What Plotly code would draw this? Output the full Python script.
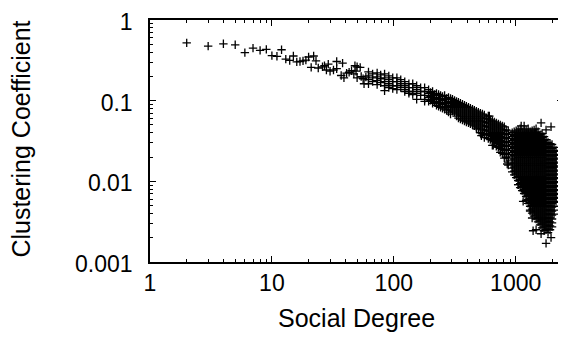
import plotly.graph_objects as go

# ---- data (degree, clustering coefficient) ----
sparse_degree = [2, 3, 4, 5, 6, 7, 8, 9, 10, 11, 12, 13, 14, 15, 16,
                 17, 18, 19, 20, 21, 22, 23, 24, 26, 27, 28, 29, 30, 32, 34, 34,
                 37, 38, 39, 41, 43, 45, 47, 48, 49, 50, 50, 53, 54, 56, 57, 59]
sparse_coef = [0.521, 0.474, 0.507, 0.493, 0.394, 0.448, 0.420, 0.432, 0.362, 0.355,
               0.428, 0.327, 0.315, 0.358, 0.303,
               0.306, 0.311, 0.318, 0.348, 0.259, 0.358, 0.311, 0.254, 0.263, 0.271,
               0.240, 0.284, 0.232, 0.240, 0.249, 0.306,
               0.205, 0.292, 0.192, 0.219, 0.225, 0.235, 0.215, 0.271, 0.232, 0.263,
               0.192, 0.259, 0.199, 0.187, 0.162, 0.196]

band_degree = [62, 67, 73, 78, 84, 91, 98, 106, 114, 123, 133, 143, 154, 166, 179,
               193, 208, 224, 242, 261, 281, 303, 327, 352, 380, 410, 442, 476, 513,
               553, 596, 643, 693, 747, 806, 869]
band_coef = [
    [0.227, 0.203, 0.182, 0.162],
    [0.215, 0.192, 0.172],
    [0.221, 0.197, 0.177, 0.158],
    [0.209, 0.187, 0.167],
    [0.215, 0.192, 0.172, 0.153, 0.133],
    [0.203, 0.182, 0.162, 0.145],
    [0.192, 0.172, 0.153, 0.141],
    [0.192, 0.172, 0.153, 0.137],
    [0.182, 0.162, 0.145],
    [0.172, 0.153, 0.137, 0.130],
    [0.162, 0.145, 0.130, 0.123],
    [0.162, 0.145, 0.130, 0.119],
    [0.153, 0.137, 0.123, 0.104],
    [0.145, 0.130, 0.116],
    [0.145, 0.130, 0.116, 0.104, 0.098],
    [0.137, 0.123, 0.110, 0.098],
    [0.130, 0.116, 0.104, 0.0927],
    [0.123, 0.110, 0.098, 0.0877],
    [0.116, 0.104, 0.0927, 0.0829],
    [0.116, 0.104, 0.0927, 0.0829, 0.0784],
    [0.110, 0.098, 0.0877, 0.0784, 0.0721],
    [0.104, 0.0927, 0.0829, 0.0741],
    [0.098, 0.0877, 0.0784, 0.0701, 0.0645],
    [0.0927, 0.0829, 0.0741, 0.0663, 0.0593],
    [0.0877, 0.0784, 0.0701, 0.0627, 0.0560],
    [0.0829, 0.0741, 0.0663, 0.0593, 0.0530],
    [0.0784, 0.0701, 0.0627, 0.0560, 0.0501],
    [0.0741, 0.0663, 0.0593, 0.0530, 0.0474, 0.0448],
    [0.0701, 0.0627, 0.0560, 0.0501, 0.0448, 0.0400],
    [0.0663, 0.0593, 0.0530, 0.0474, 0.0423, 0.0379, 0.0348],
    [0.0645, 0.0593, 0.0530, 0.0474, 0.0423, 0.0379, 0.0339],
    [0.0560, 0.0501, 0.0448, 0.0400, 0.0358, 0.0320, 0.0279],
    [0.0530, 0.0474, 0.0423, 0.0379, 0.0339, 0.0303, 0.0271],
    [0.0501, 0.0448, 0.0400, 0.0358, 0.0320, 0.0286, 0.0256, 0.0229],
    [0.0474, 0.0423, 0.0379, 0.0339, 0.0303, 0.0271, 0.0242, 0.0216, 0.0194],
    [0.0423, 0.0379, 0.0339, 0.0303, 0.0271, 0.0242, 0.0216, 0.0194, 0.0173, 0.0159],
]

band2_degree = [200, 216, 233, 251, 271, 292, 315, 339, 366, 394, 425, 458, 494, 533,
                574, 619, 667, 720, 776, 836]
band2_coef = [
    [0.1261, 0.1128, 0.1008],
    [0.1193, 0.1066, 0.0954],
    [0.1193, 0.1066, 0.0954, 0.0852],
    [0.1128, 0.1008, 0.0902, 0.0806],
    [0.1066, 0.0954, 0.0852, 0.0762],
    [0.1066, 0.0954, 0.0852, 0.0762, 0.0682],
    [0.1008, 0.0902, 0.0806, 0.0721],
    [0.0954, 0.0852, 0.0762, 0.0682, 0.0609],
    [0.0902, 0.0806, 0.0721, 0.0645, 0.0576],
    [0.0852, 0.0762, 0.0682, 0.0609, 0.0545],
    [0.0806, 0.0721, 0.0645, 0.0576, 0.0515],
    [0.0762, 0.0682, 0.0609, 0.0545, 0.0487],
    [0.0721, 0.0645, 0.0576, 0.0515, 0.0461],
    [0.0682, 0.0609, 0.0545, 0.0487, 0.0435, 0.0389],
    [0.0609, 0.0545, 0.0487, 0.0435, 0.0389],
    [0.0576, 0.0515, 0.0461, 0.0411, 0.0368, 0.0329],
    [0.0545, 0.0487, 0.0435, 0.0389, 0.0348, 0.0311],
    [0.0515, 0.0461, 0.0411, 0.0368, 0.0329, 0.0294, 0.0263],
    [0.0487, 0.0435, 0.0389, 0.0348, 0.0311, 0.0279, 0.0249, 0.0222],
    [0.0435, 0.0389, 0.0348, 0.0311, 0.0279, 0.0249, 0.0222, 0.0199],
]

cloud_degree = [936, 1009, 1088, 1173, 1265, 1364, 1470, 1585, 1709, 1842, 1986, 2141]
cloud_coef = [
    [0.0400, 0.0358, 0.0320, 0.0286, 0.0256, 0.0229, 0.0205, 0.0183, 0.0164, 0.0146, 0.0131],
    [0.0423, 0.0379, 0.0339, 0.0303, 0.0271, 0.0242, 0.0216, 0.0194, 0.0173, 0.0155, 0.0138,
     0.0124, 0.0111],
    [0.0448, 0.0400, 0.0358, 0.0320, 0.0286, 0.0256, 0.0229, 0.0205, 0.0183, 0.0164, 0.0146,
     0.0131, 0.0117, 0.0105, 0.00935, 0.00836],
    [0.0423, 0.0379, 0.0339, 0.0303, 0.0271, 0.0242, 0.0216, 0.0194, 0.0173, 0.0155, 0.0138,
     0.0124, 0.0111, 0.00989, 0.00884, 0.00791, 0.00707],
    [0.0448, 0.0400, 0.0358, 0.0320, 0.0286, 0.0256, 0.0229, 0.0205, 0.0183, 0.0164, 0.0146,
     0.0131, 0.0117, 0.0105, 0.00935, 0.00836, 0.00747, 0.00668, 0.00597, 0.00534],
    [0.0423, 0.0379, 0.0339, 0.0303, 0.0271, 0.0242, 0.0216, 0.0194, 0.0173, 0.0155, 0.0138,
     0.0124, 0.0111, 0.00989, 0.00884, 0.00791, 0.00707, 0.00632, 0.00565, 0.00505, 0.00452,
     0.00404],
    [0.0448, 0.0400, 0.0358, 0.0320, 0.0286, 0.0256, 0.0229, 0.0205, 0.0183, 0.0164, 0.0146,
     0.0131, 0.0117, 0.0105, 0.00935, 0.00836, 0.00747, 0.00668, 0.00597, 0.00534, 0.00478,
     0.00427, 0.00382, 0.00341],
    [0.0379, 0.0339, 0.0303, 0.0271, 0.0242, 0.0216, 0.0194, 0.0173, 0.0155, 0.0138, 0.0124,
     0.0111, 0.00989, 0.00884, 0.00791, 0.00707, 0.00632, 0.00565, 0.00505, 0.00452, 0.00404,
     0.00361, 0.00323, 0.00289],
    [0.0358, 0.0320, 0.0286, 0.0256, 0.0229, 0.0205, 0.0183, 0.0164, 0.0146, 0.0131, 0.0117,
     0.0105, 0.00935, 0.00836, 0.00747, 0.00668, 0.00597, 0.00534, 0.00478, 0.00427, 0.00382,
     0.00341, 0.00305, 0.00273, 0.00244],
    [0.0303, 0.0271, 0.0242, 0.0216, 0.0194, 0.0173, 0.0155, 0.0138, 0.0124, 0.0111, 0.00989,
     0.00884, 0.00791, 0.00707, 0.00632, 0.00565, 0.00505, 0.00452, 0.00404, 0.00361, 0.00323,
     0.00289, 0.00258, 0.00231],
    [0.0286, 0.0256, 0.0229, 0.0205, 0.0183, 0.0164, 0.0146, 0.0131, 0.0117, 0.0105, 0.00935,
     0.00836, 0.00747, 0.00668, 0.00597, 0.00534, 0.00478, 0.00427, 0.00382, 0.00341, 0.00305,
     0.00273],
    [0.0242, 0.0216, 0.0194, 0.0173, 0.0155, 0.0138, 0.0124, 0.0111, 0.00989, 0.00884, 0.00791,
     0.00707, 0.00632, 0.00565],
]

cloud2_degree = [972, 1048, 1130, 1218, 1313, 1416, 1526, 1646, 1774, 1912, 2062]
cloud2_coef = [
    [0.0411, 0.0368, 0.0329, 0.0294, 0.0263, 0.0235, 0.0210, 0.0188, 0.0168, 0.0150, 0.0134,
     0.0120],
    [0.0435, 0.0389, 0.0348, 0.0311, 0.0279, 0.0249, 0.0222, 0.0199, 0.0178, 0.0159, 0.0142,
     0.0127, 0.0114, 0.0102, 0.00909],
    [0.0411, 0.0368, 0.0329, 0.0294, 0.0263, 0.0235, 0.0210, 0.0188, 0.0168, 0.0150, 0.0134,
     0.0120, 0.0108, 0.00962, 0.00860, 0.00769],
    [0.0435, 0.0389, 0.0348, 0.0311, 0.0279, 0.0249, 0.0222, 0.0199, 0.0178, 0.0159, 0.0142,
     0.0127, 0.0114, 0.0102, 0.00909, 0.00813, 0.00727, 0.00650, 0.00581],
    [0.0411, 0.0368, 0.0329, 0.0294, 0.0263, 0.0235, 0.0210, 0.0188, 0.0168, 0.0150, 0.0134,
     0.0120, 0.0108, 0.00962, 0.00860, 0.00769, 0.00687, 0.00614, 0.00549, 0.00491, 0.00439],
    [0.0435, 0.0389, 0.0348, 0.0311, 0.0279, 0.0249, 0.0222, 0.0199, 0.0178, 0.0159, 0.0142,
     0.0127, 0.0114, 0.0102, 0.00909, 0.00813, 0.00727, 0.00650, 0.00581, 0.00519, 0.00465,
     0.00415, 0.00371],
    [0.0411, 0.0368, 0.0329, 0.0294, 0.0263, 0.0235, 0.0210, 0.0188, 0.0168, 0.0150, 0.0134,
     0.0120, 0.0108, 0.00962, 0.00860, 0.00769, 0.00687, 0.00614, 0.00549, 0.00491, 0.00439,
     0.00393, 0.00351, 0.00314],
    [0.0389, 0.0348, 0.0311, 0.0279, 0.0249, 0.0222, 0.0199, 0.0178, 0.0159, 0.0142, 0.0127,
     0.0114, 0.0102, 0.00909, 0.00813, 0.00727, 0.00650, 0.00581, 0.00519, 0.00465, 0.00415,
     0.00371, 0.00332, 0.00297, 0.00265],
    [0.0329, 0.0294, 0.0263, 0.0235, 0.0210, 0.0188, 0.0168, 0.0150, 0.0134, 0.0120, 0.0108,
     0.00962, 0.00860, 0.00769, 0.00687, 0.00614, 0.00549, 0.00491, 0.00439, 0.00393, 0.00351,
     0.00314, 0.00281, 0.00251],
    [0.0294, 0.0263, 0.0235, 0.0210, 0.0188, 0.0168, 0.0150, 0.0134, 0.0120, 0.0108, 0.00962,
     0.00860, 0.00769, 0.00687, 0.00614, 0.00549, 0.00491, 0.00439, 0.00393, 0.00351, 0.00314,
     0.00281, 0.00251],
    [0.0263, 0.0235, 0.0210, 0.0188, 0.0168, 0.0150, 0.0134, 0.0120, 0.0108, 0.00962, 0.00860,
     0.00769, 0.00687, 0.00614, 0.00549, 0.00491, 0.00439, 0.00393],
]

outlier_degree = [608, 523, 655, 852, 1109, 1173, 1615, 1949, 1774, 1677, 1338, 1443, 1265,
                  1048, 1151, 1196, 1313, 1364, 1389, 1470, 1615, 1774, 1949]
outlier_coef = [0.0645, 0.0368, 0.0279, 0.0164, 0.0487, 0.0487, 0.0530, 0.0474, 0.0435,
                0.0358, 0.0389, 0.0400, 0.0368, 0.00909, 0.00565, 0.00747, 0.00427, 0.00351,
                0.00244, 0.00251, 0.00224, 0.00170, 0.00201]

x_tick_vals = [1, 10, 100, 1000]
x_tick_text = ["1", "10", "100", "1000"]
y_tick_vals = [0.001, 0.01, 0.1, 1]
y_tick_text = ["0.001", "0.01", "0.1", "1"]

# ---- assemble ----
xs, ys = list(sparse_degree), list(sparse_coef)
for degs, cols in ((band_degree, band_coef), (band2_degree, band2_coef),
                   (cloud_degree, cloud_coef), (cloud2_degree, cloud2_coef)):
    for d, col in zip(degs, cols):
        xs += [d] * len(col)
        ys += col
xs += outlier_degree
ys += outlier_coef

FONT = "Liberation Sans, Arial, Helvetica, sans-serif"

fig = go.Figure(go.Scatter(
    x=xs, y=ys, mode="markers",
    marker=dict(symbol="cross-thin", size=6, color="black",
                line=dict(width=1.3, color="black")),
    showlegend=False, hoverinfo="skip"))

axis_common = dict(
    type="log", showline=True, linecolor="black", linewidth=1.5, mirror="ticks",
    ticks="inside", ticklen=6, tickwidth=1, tickcolor="black",
    showgrid=False, zeroline=False, ticklabeloverflow="allow",
    tickfont=dict(family=FONT, size=23, color="black"),
    minor=dict(ticks="inside", ticklen=3, tickwidth=1, tickcolor="black",
               dtick="D1", showgrid=False),
)

# the page body has an 8px margin, so the figure is 8px smaller than the window
fig.update_layout(
    width=558, height=330,
    margin=dict(l=142, r=1, t=7, b=76),
    paper_bgcolor="white", plot_bgcolor="white",
    xaxis=dict(axis_common, range=[0, 3.388], tickmode="array",
               tickvals=x_tick_vals, ticktext=x_tick_text, ticklabelstandoff=0),
    yaxis=dict(axis_common, range=[-3, 0], tickmode="array",
               tickvals=y_tick_vals, ticktext=y_tick_text, ticklabelstandoff=11,
               ticklabelshift=2),
    annotations=[
        dict(text="Social Degree", xref="paper", yref="paper", x=0.501, y=-0.231,
             xanchor="center", yanchor="middle", showarrow=False,
             font=dict(family=FONT, size=25, color="black")),
        dict(text="Clustering Coefficient", xref="paper", yref="paper", x=-0.311, y=0.508,
             xanchor="center", yanchor="middle", textangle=-90, showarrow=False,
             font=dict(family=FONT, size=25, color="black")),
    ],
)

fig.write_html("out.html")
